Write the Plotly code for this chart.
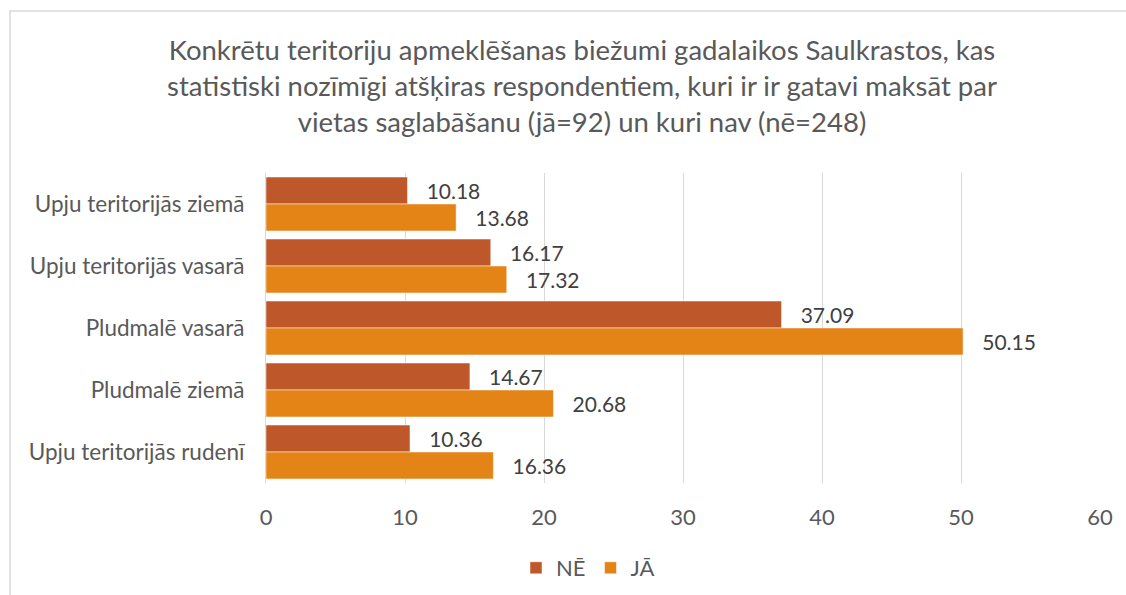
import plotly.graph_objects as go

categories = ["Upju teritorijās ziemā", "Upju teritorijās vasarā", "Pludmalē vasarā",
              "Pludmalē ziemā", "Upju teritorijās rudenī"]
ne_values = [10.18, 16.17, 37.09, 14.67, 10.36]
ja_values = [13.68, 17.32, 50.15, 20.68, 16.36]
x_ticks = [0, 10, 20, 30, 40, 50, 60]

FONT = "Lato, 'Open Sans', sans-serif"
pad = "\u00a0\u00a0\u00a0"

fig = go.Figure()
fig.add_trace(go.Bar(
    y=categories, x=ne_values, name="NĒ", orientation="h",
    marker=dict(color="#BE582B", line=dict(color="white", width=0.5)),
    texttemplate=pad + "%{x:.2f}", textposition="outside",
    textfont=dict(size=21, color="#404040", family=FONT), cliponaxis=False,
))
fig.add_trace(go.Bar(
    y=categories, x=ja_values, name="JĀ", orientation="h",
    marker=dict(color="#E48316", line=dict(color="white", width=0.5)),
    texttemplate=pad + "%{x:.2f}", textposition="outside",
    textfont=dict(size=21, color="#404040", family=FONT), cliponaxis=False,
))

L, R, T, B = 266, 26, 173, 112
W, H = 1126, 595
pw = W - L - R
ph = H - T - B

fig.update_layout(
    width=W, height=H,
    margin=dict(l=L, r=R, t=T, b=B, autoexpand=False),
    paper_bgcolor="white", plot_bgcolor="white",
    barmode="group", bargap=0.13, bargroupgap=0,
    font=dict(family=FONT, color="#595959", size=22),
    title=dict(
        text="Konkrētu teritoriju apmeklēšanas biežumi gadalaikos Saulkrastos, kas<br>"
             "statistiski nozīmīgi atšķiras respondentiem, kuri ir ir gatavi maksāt par<br>"
             "vietas saglabāšanu (jā=92) un kuri nav (nē=248)",
        x=582 / W, xanchor="center", xref="container",
        y=1 - 60 / H, yanchor="middle", yref="container",
        font=dict(size=27.5, color="#595959", family=FONT),
    ),
    xaxis=dict(
        range=[0, 60], tickvals=x_ticks, showgrid=True, gridcolor="#D9D9D9", gridwidth=1.3,
        zeroline=False, showline=False, ticks="", ticklabelstandoff=19,
        tickfont=dict(size=22, color="#595959"),
    ),
    yaxis=dict(
        autorange="reversed", showline=True, linecolor="#D9D9D9", linewidth=1.3,
        ticks="", ticklabelstandoff=16, tickfont=dict(size=22.5, color="#595959"),
    ),
    legend=dict(
        orientation="h", x=(588 - L) / pw, xanchor="center",
        y=(ph - (568 - T)) / ph, yanchor="middle",
        font=dict(size=22, color="#595959"), traceorder="normal",
        itemwidth=30,
    ),
    shapes=[dict(
        type="rect", xref="paper", yref="paper",
        x0=(10 - L) / pw, x1=(W + 20 - L) / pw,
        y0=(ph - (H + 20 - T)) / ph, y1=(ph - (11 - T)) / ph,
        line=dict(color="#D9D9D9", width=1.5), fillcolor="rgba(0,0,0,0)", layer="below",
    )],
)

fig.write_html("out.html", config={"displayModeBar": False},
               post_script="document.body.style.margin='0';")
